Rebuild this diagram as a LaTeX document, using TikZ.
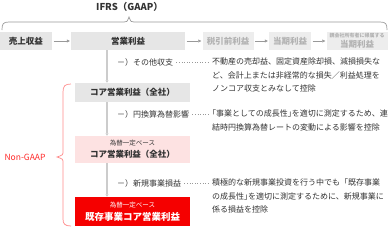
\documentclass[tikz,border=0pt]{standalone}
\usepackage{fontspec}
\setmainfont{Noto Sans CJK JP}
\usetikzlibrary{arrows.meta,positioning,calc}
\definecolor{boxgray}{HTML}{E6E6E6}
\definecolor{fadegray}{HTML}{EDEDED}
\definecolor{fadetext}{HTML}{B2B2B2}
\definecolor{inkgray}{HTML}{333333}
\definecolor{linegray}{HTML}{999999}
\definecolor{spinegray}{HTML}{CCCCCC}
\definecolor{corepink}{HTML}{FDE2E2}
\definecolor{corered}{HTML}{F50000}
\definecolor{bracered}{HTML}{FF8A8A}
\definecolor{ngred}{HTML}{FF2A2A}

\begin{document}
\begin{tikzpicture}[
    x=1pt, y=-1pt,
    rowbox/.style={fill=boxgray, minimum height=18pt, inner sep=0pt, text=inkgray, font=\fontsize{8.5}{10}\selectfont\bfseries},
    fadebox/.style={fill=fadegray, minimum height=18pt, inner sep=0pt, align=center, text=fadetext, font=\fontsize{8.5}{10}\selectfont\bfseries},
    corebox/.style={minimum width=115pt, inner sep=0pt, align=center, text=inkgray, font=\fontsize{8.5}{12}\selectfont\bfseries},
    minus/.style={anchor=north west, inner sep=0pt, text=inkgray, font=\fontsize{8}{13.5}\selectfont},
    note/.style={anchor=north west, inner sep=0pt, align=left, text=inkgray, font=\fontsize{8}{13.5}\selectfont},
    flow/.style={-{Triangle[length=3pt,width=3pt]}, linegray, line width=0.6pt, shorten <=1.5pt, shorten >=1pt},
    spine/.style={-{Triangle[length=2.5pt,width=3pt]}, spinegray, line width=1.5pt},
    leader/.style={linegray, dotted, line width=0.6pt},
    >=Stealth
  ]
  \useasboundingbox (0,0) rectangle (389,226);

  \node[text=inkgray, font=\fontsize{9.5}{10}\selectfont\bfseries] (ifrs) at (129.5,7) {IFRS（GAAP）};
  \draw[linegray, line width=0.7pt] (2,30) .. controls (2,24) and (3,22) .. (9,22) -- (124,22)
    .. controls (127,22) .. (129,17) .. controls (131,22) .. (134,22) -- (380,22)
    .. controls (386,22) and (387,24) .. (387,30);

  \node[rowbox, minimum width=52pt] (sales) at (26,41) {売上収益};
  \node[rowbox, minimum width=114pt] (op) at (128,41) {営業利益};
  \node[fadebox, minimum width=51pt] (pretax) at (228,41) {税引前利益};
  \node[fadebox, minimum width=42pt] (net) at (290,41) {当期利益};
  \node[fadebox, minimum width=61pt] (owner) at (357,41) {{\fontsize{5}{6}\selectfont 親会社所有者に帰属する}\\当期利益};
  \draw[flow] (sales) -- (op);
  \draw[flow] (op) -- (pretax);
  \draw[flow] (pretax) -- (net);
  \draw[flow] (net) -- (owner);

  \node[corebox, fill=boxgray, minimum height=19pt] (core) at (132.5,92.5) {コア営業利益（全社）};
  \node[corebox, fill=corepink, minimum height=27pt] (fxcore) at (132.5,149.5) {{\fontsize{6.5}{8}\selectfont\mdseries 為替一定ベース}\\コア営業利益（全社）};
  \node[corebox, fill=corered, text=white, minimum height=29pt, font=\fontsize{9.5}{12.5}\selectfont\bfseries] (basecore) at (132.5,211.5) {{\fontsize{6.5}{8}\selectfont\mdseries 為替一定ベース}\\既存事業コア営業利益};

  \coordinate (axis) at (107,0);
  \draw[spine] (op.south -| axis) -- (core.north -| axis);
  \draw[spine] (core.south -| axis) -- (fxcore.north -| axis);
  \draw[spine] (fxcore.south -| axis) -- (basecore.north -| axis);

  \node[minus] (m1) at (117,58) {－）その他収支};
  \node[note] (n1) at (212,58) {不動産の売却益、固定資産除却損、減損損失な\\ど、会計上または非経常的な損失／利益処理を\\ノンコア収支とみなして控除};
  \node[minus] (m2) at (117,110) {－）円換算為替影響};
  \node[note] (n2) at (212,110) {\kern-4pt「事業としての成長性」\kern-4pt を適切に測定するため、連\\結時円換算為替レートの変動による影響を控除};
  \node[minus] (m3) at (117,179) {－）新規事業損益};
  \node[note] (n3) at (212,179) {積極的な新規事業投資を行う中でも「既存事業\\の成長性」\kern-4pt を適切に測定するために、新規事業に\\係る損益を控除};
  \draw[leader] ([xshift=3pt]m1.east) -- ([xshift=-3pt]m1.east -| n1.west);
  \draw[leader] ([xshift=3pt]m2.east) -- ([xshift=-3pt]m2.east -| n2.west);
  \draw[leader] ([xshift=3pt]m3.east) -- ([xshift=-3pt]m3.east -| n3.west);

  \node[text=ngred, font=\fontsize{8.5}{10}\selectfont] (ng) at (25,157) {Non-GAAP};
  \draw[bracered, line width=0.7pt] (71,84) .. controls (65,84) and (63,86) .. (63,92) -- (63,151)
    .. controls (63,155) .. (57,157) .. controls (63,159) .. (63,163) -- (63,219)
    .. controls (63,224) and (65,226) .. (71,226);
\end{tikzpicture}
\end{document}
